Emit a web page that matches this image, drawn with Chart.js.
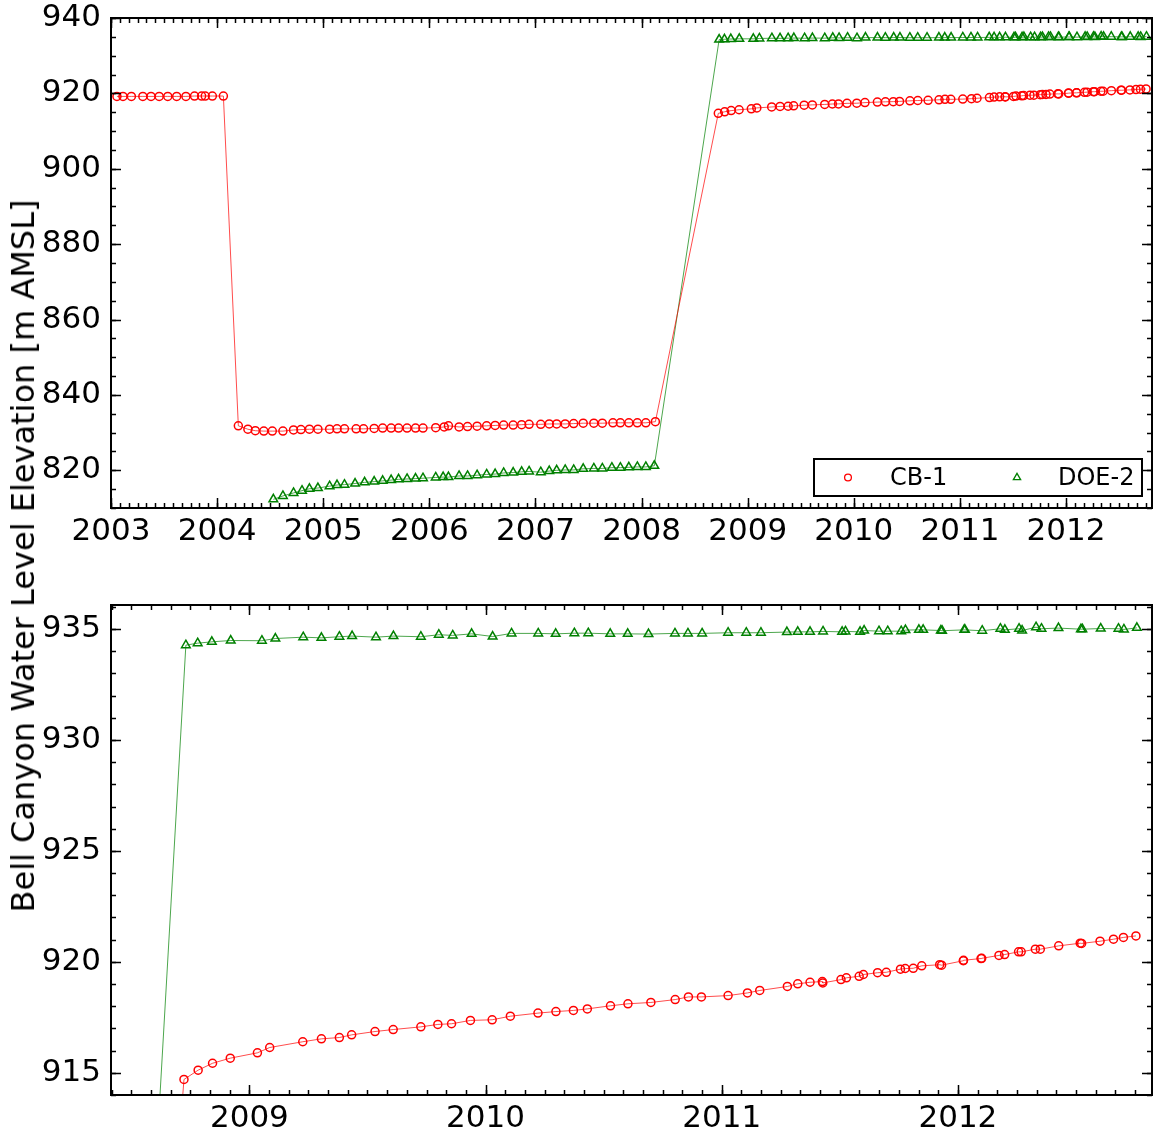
<!DOCTYPE html>
<html>
<head>
<meta charset="utf-8">
<script src="https://cdn.jsdelivr.net/npm/chart.js@4.4.1/dist/chart.umd.min.js"></script>
<style>
  html, body { margin: 0; padding: 0; background: #fff; }
  #wrap { position: relative; width: 1154px; height: 1135px; overflow: hidden; }
  #overview { position: absolute; left: 0; top: 0; }
  #detail { position: absolute; left: 0; top: 560px; }
  #ytitle {
    position: absolute; left: 23px; top: 556px;
    transform: translate(-50%, -50%) rotate(-90deg);
    font-family: "DejaVu Sans"; font-size: 32px; color: #000; white-space: nowrap;
  }
</style>
</head>
<body>
<div id="wrap">
  <canvas id="overview" width="1154" height="560" style="width:1154px;height:560px"></canvas>
  <canvas id="detail" width="1154" height="575" style="width:1154px;height:575px"></canvas>
  <div id="ytitle">Bell Canyon Water Level Elevation [m AMSL]</div>
</div>
<script>
// Observation dates (decimal years) and water level elevations [m AMSL]
const cb1Years = [
  2003.056, 2003.113, 2003.192, 2003.300, 2003.377, 2003.454, 2003.535, 2003.619, 2003.706, 2003.787,
  2003.854, 2003.888, 2003.955, 2004.059,
  2004.20, 2004.29, 2004.36, 2004.44, 2004.52, 2004.62, 2004.72, 2004.79, 2004.87, 2004.95,
  2005.06, 2005.13, 2005.20, 2005.31, 2005.38, 2005.48, 2005.56, 2005.64, 2005.71, 2005.79,
  2005.87, 2005.94, 2006.06, 2006.14, 2006.18, 2006.28, 2006.36, 2006.45, 2006.54, 2006.62,
  2006.70, 2006.79, 2006.87, 2006.94, 2007.05, 2007.13, 2007.20, 2007.28, 2007.36, 2007.45,
  2007.55, 2007.63, 2007.73, 2007.80, 2007.88, 2007.96, 2008.04, 2008.13,
  2008.723, 2008.783, 2008.844, 2008.919, 2009.034, 2009.086, 2009.226, 2009.305, 2009.381, 2009.433,
  2009.532, 2009.609, 2009.726, 2009.798, 2009.856, 2009.936, 2010.028, 2010.105, 2010.222, 2010.298,
  2010.372, 2010.431, 2010.529, 2010.603, 2010.700, 2010.803, 2010.859, 2010.914, 2011.027, 2011.109,
  2011.161, 2011.278, 2011.322, 2011.374, 2011.426, 2011.428, 2011.505, 2011.528, 2011.582, 2011.600,
  2011.660, 2011.697, 2011.757, 2011.777, 2011.811, 2011.847, 2011.923, 2011.931, 2012.023, 2012.024,
  2012.098, 2012.101, 2012.174, 2012.198, 2012.257, 2012.268, 2012.328, 2012.349, 2012.427, 2012.518,
  2012.524, 2012.602, 2012.659, 2012.701, 2012.754
];
const cb1Levels = [
  919.2, 919.2, 919.2, 919.2, 919.2, 919.2, 919.2, 919.2, 919.2, 919.3,
  919.3, 919.3, 919.3, 919.3,
  831.8, 830.9, 830.5, 830.4, 830.4, 830.4, 830.7, 830.8, 830.9, 830.9,
  830.9, 831.0, 831.0, 831.0, 831.0, 831.1, 831.2, 831.2, 831.2, 831.2,
  831.2, 831.2, 831.3, 831.5, 831.8, 831.5, 831.6, 831.7, 831.8, 831.9,
  832.0, 832.0, 832.1, 832.2, 832.2, 832.3, 832.3, 832.3, 832.4, 832.5,
  832.5, 832.5, 832.6, 832.6, 832.6, 832.6, 832.6, 832.9,
  914.70, 915.12, 915.43, 915.66, 915.90, 916.14, 916.40, 916.53, 916.59, 916.71,
  916.86, 916.95, 917.07, 917.18, 917.21, 917.36, 917.39, 917.55, 917.69, 917.76,
  917.81, 917.88, 918.02, 918.11, 918.17, 918.30, 918.42, 918.42, 918.48, 918.60,
  918.71, 918.89, 919.01, 919.08, 919.11, 919.05, 919.20, 919.28, 919.35, 919.43,
  919.51, 919.53, 919.67, 919.70, 919.71, 919.82, 919.87, 919.85, 920.05, 920.07,
  920.15, 920.16, 920.29, 920.33, 920.45, 920.45, 920.57, 920.57, 920.72, 920.84,
  920.83, 920.93, 921.02, 921.10, 921.17
];

const doe2Years = [
  2004.53, 2004.62, 2004.72, 2004.80, 2004.87, 2004.95, 2005.06, 2005.13, 2005.20, 2005.30,
  2005.39, 2005.48, 2005.56, 2005.64, 2005.71, 2005.79, 2005.87, 2005.94, 2006.06, 2006.13,
  2006.18, 2006.28, 2006.36, 2006.45, 2006.54, 2006.62, 2006.70, 2006.79, 2006.87, 2006.94,
  2007.05, 2007.13, 2007.20, 2007.28, 2007.36, 2007.45, 2007.55, 2007.63, 2007.72, 2007.80,
  2007.88, 2007.96, 2008.04, 2008.12,
  2008.731, 2008.781, 2008.841, 2008.921, 2009.053, 2009.110, 2009.228, 2009.305, 2009.381, 2009.435,
  2009.536, 2009.610, 2009.726, 2009.802, 2009.861, 2009.941, 2010.030, 2010.110, 2010.223, 2010.297,
  2010.376, 2010.435, 2010.528, 2010.602, 2010.690, 2010.802, 2010.857, 2010.917, 2011.027, 2011.104,
  2011.166, 2011.276, 2011.322, 2011.374, 2011.429, 2011.510, 2011.524, 2011.586, 2011.603, 2011.666,
  2011.703, 2011.760, 2011.778, 2011.835, 2011.853, 2011.928, 2011.933, 2012.027, 2012.030, 2012.103,
  2012.180, 2012.199, 2012.259, 2012.272, 2012.331, 2012.354, 2012.426, 2012.521, 2012.527, 2012.605,
  2012.680, 2012.703, 2012.758
];
const doe2Levels = [
  812.3, 813.2, 814.0, 814.6, 815.1, 815.3, 815.8, 816.1, 816.2, 816.5,
  816.8, 817.0, 817.2, 817.4, 817.6, 817.7, 817.8, 817.9, 818.1, 818.2,
  818.2, 818.5, 818.5, 818.7, 818.9, 819.0, 819.3, 819.4, 819.6, 819.7,
  819.5, 819.8, 820.0, 820.1, 820.1, 820.4, 820.5, 820.5, 820.7, 820.7,
  820.8, 820.9, 820.9, 821.2,
  934.27, 934.36, 934.42, 934.48, 934.47, 934.57, 934.63, 934.60, 934.65, 934.68,
  934.63, 934.68, 934.65, 934.74, 934.71, 934.78, 934.66, 934.80, 934.80, 934.78,
  934.81, 934.81, 934.78, 934.78, 934.77, 934.80, 934.80, 934.80, 934.83, 934.83,
  934.83, 934.86, 934.87, 934.87, 934.89, 934.87, 934.89, 934.87, 934.93, 934.90,
  934.90, 934.90, 934.95, 934.96, 934.96, 934.93, 934.92, 934.96, 934.96, 934.92,
  935.01, 934.96, 935.01, 934.93, 935.08, 935.01, 935.04, 934.99, 934.99, 935.02,
  935.01, 934.98, 935.05
];

// Axis ticks
const overviewYearTicks = [2003, 2004, 2005, 2006, 2007, 2008, 2009, 2010, 2011, 2012];
const overviewLevelTicks = [820, 840, 860, 880, 900, 920, 940];
const detailYearTicks = [2009, 2010, 2011, 2012];
const detailLevelTicks = [915, 920, 925, 930, 935];

const FONT = 'DejaVu Sans';
const toPoints = (xs, ys) => xs.map((t, i) => ({ x: t, y: ys[i] }));

function datasets() {
  return [
    {
      label: 'CB-1',
      data: toPoints(cb1Years, cb1Levels),
      borderColor: 'rgba(255,0,0,0.7)',
      borderWidth: 1,
      pointStyle: 'circle',
      pointRadius: 4,
      pointBorderWidth: 1.5,
      pointBorderColor: '#ff0000',
      pointBackgroundColor: 'rgba(0,0,0,0)',
      tension: 0,
      clip: 0
    },
    {
      label: 'DOE-2',
      data: toPoints(doe2Years, doe2Levels),
      borderColor: 'rgba(0,128,0,0.7)',
      borderWidth: 1,
      pointStyle: 'triangle',
      pointRadius: 5,
      pointBorderWidth: 1.5,
      pointBorderColor: '#008000',
      pointBackgroundColor: 'rgba(0,0,0,0)',
      tension: 0,
      clip: 0
    }
  ];
}

// Spines plus inward major/minor ticks on all four sides
const axesFrame = {
  id: 'axesFrame',
  afterDatasetsDraw(chart, args, opts) {
    const { ctx, chartArea: a } = chart;
    const xs = chart.scales.x, ys = chart.scales.y;
    ctx.save();
    ctx.strokeStyle = '#000';
    ctx.lineWidth = 1.5;
    const xTicks = (vals, len) => {
      vals.forEach(v => {
        if (v < xs.min - 1e-9 || v > xs.max + 1e-9) return;
        const p = Math.round(xs.getPixelForValue(v)) + 0.5;
        ctx.beginPath();
        ctx.moveTo(p, a.bottom); ctx.lineTo(p, a.bottom - len);
        ctx.moveTo(p, a.top); ctx.lineTo(p, a.top + len);
        ctx.stroke();
      });
    };
    const yTicks = (vals, len) => {
      vals.forEach(v => {
        if (v < ys.min - 1e-9 || v > ys.max + 1e-9) return;
        const p = Math.round(ys.getPixelForValue(v)) + 0.5;
        ctx.beginPath();
        ctx.moveTo(a.left, p); ctx.lineTo(a.left + len, p);
        ctx.moveTo(a.right, p); ctx.lineTo(a.right - len, p);
        ctx.stroke();
      });
    };
    const months = [];
    for (let k = Math.ceil(xs.min * 12); k <= Math.floor(xs.max * 12); k++) months.push(k / 12);
    const minorLevels = [];
    for (let k = Math.ceil(ys.min / opts.yMinor); k <= Math.floor(ys.max / opts.yMinor); k++) minorLevels.push(k * opts.yMinor);
    xTicks(months, 5);
    yTicks(minorLevels, 5);
    xTicks(opts.xMajor, 10);
    yTicks(opts.yMajor, 10);
    ctx.lineWidth = 2;
    ctx.strokeRect(a.left, a.top, a.right - a.left, a.bottom - a.top);
    ctx.restore();
  }
};

// Boxed legend in the lower right of the overview panel
const boxedLegend = {
  id: 'boxedLegend',
  afterDraw(chart, args, opts) {
    if (!opts.show) return;
    const { ctx, chartArea: a } = chart;
    const w = 328, h = 37;
    const left = a.right - 10 - w, top = a.bottom - 12 - h;
    const cy = top + h / 2;
    ctx.save();
    ctx.fillStyle = '#fff';
    ctx.fillRect(left, top, w, h);
    ctx.strokeStyle = '#000';
    ctx.lineWidth = 2;
    ctx.strokeRect(left, top, w, h);
    const items = chart.data.datasets;
    const markerX = [left + 34, left + 203];
    const textX = [left + 76, left + 244];
    items.forEach((ds, i) => {
      ctx.strokeStyle = ds.pointBorderColor;
      ctx.lineWidth = 1.3;
      ctx.beginPath();
      if (ds.pointStyle === 'circle') {
        ctx.arc(markerX[i], cy, 3.4, 0, Math.PI * 2);
      } else {
        const r = 4.2;
        for (let k = 0; k < 3; k++) {
          const ang = k * 2 * Math.PI / 3;
          const px = markerX[i] + Math.sin(ang) * r, py = cy - Math.cos(ang) * r;
          if (k === 0) ctx.moveTo(px, py); else ctx.lineTo(px, py);
        }
        ctx.closePath();
      }
      ctx.stroke();
      ctx.fillStyle = '#000';
      ctx.font = '24px "' + FONT + '"';
      ctx.textBaseline = 'middle';
      ctx.textAlign = 'left';
      ctx.fillText(ds.label, textX[i], cy + 1);
    });
    ctx.restore();
  }
};

function buildChart(canvasId, cfg) {
  return new Chart(document.getElementById(canvasId), {
    type: 'line',
    data: { datasets: datasets() },
    options: {
      responsive: false,
      animation: false,
      events: [],
      layout: { autoPadding: false, padding: { left: 0, right: 2, top: cfg.top, bottom: 0 } },
      plugins: {
        legend: { display: false },
        tooltip: { enabled: false },
        axesFrame: { xMajor: cfg.xTicks, yMajor: cfg.yTicks, yMinor: cfg.yMinor },
        boxedLegend: { show: cfg.legend }
      },
      scales: {
        x: {
          type: 'linear', min: cfg.xMin, max: cfg.xMax,
          grid: { display: false, drawTicks: false },
          border: { display: false },
          ticks: {
            color: '#000', font: { family: FONT, size: 31 }, padding: 5,
            maxRotation: 0, autoSkip: false, callback: v => String(v)
          },
          afterBuildTicks: s => { s.ticks = cfg.xTicks.map(v => ({ value: v })); },
          afterFit: s => { s.height = cfg.xAxisHeight; s.paddingLeft = 0; s.paddingRight = 0; }
        },
        y: {
          type: 'linear', min: cfg.yMin, max: cfg.yMax,
          grid: { display: false, drawTicks: false },
          border: { display: false },
          ticks: {
            color: '#000', font: { family: FONT, size: 31 }, padding: 10,
            autoSkip: false, callback: v => String(v)
          },
          afterBuildTicks: s => { s.ticks = cfg.yTicks.map(v => ({ value: v })); },
          afterFit: s => { s.width = 111; s.paddingTop = 0; s.paddingBottom = 0; }
        }
      }
    },
    plugins: [axesFrame, boxedLegend]
  });
}

// Full record
buildChart('overview', {
  xMin: 2003, xMax: 2012.81, yMin: 810, yMax: 940,
  xTicks: overviewYearTicks, yTicks: overviewLevelTicks, yMinor: 5,
  top: 18, xAxisHeight: 52, legend: true
});

// Close-up of the post-2008 levels
buildChart('detail', {
  xMin: 2008.414, xMax: 2012.822, yMin: 914.0, yMax: 936.08,
  xTicks: detailYearTicks, yTicks: detailLevelTicks, yMinor: 1,
  top: 45, xAxisHeight: 40, legend: false
});
</script>
</body>
</html>
